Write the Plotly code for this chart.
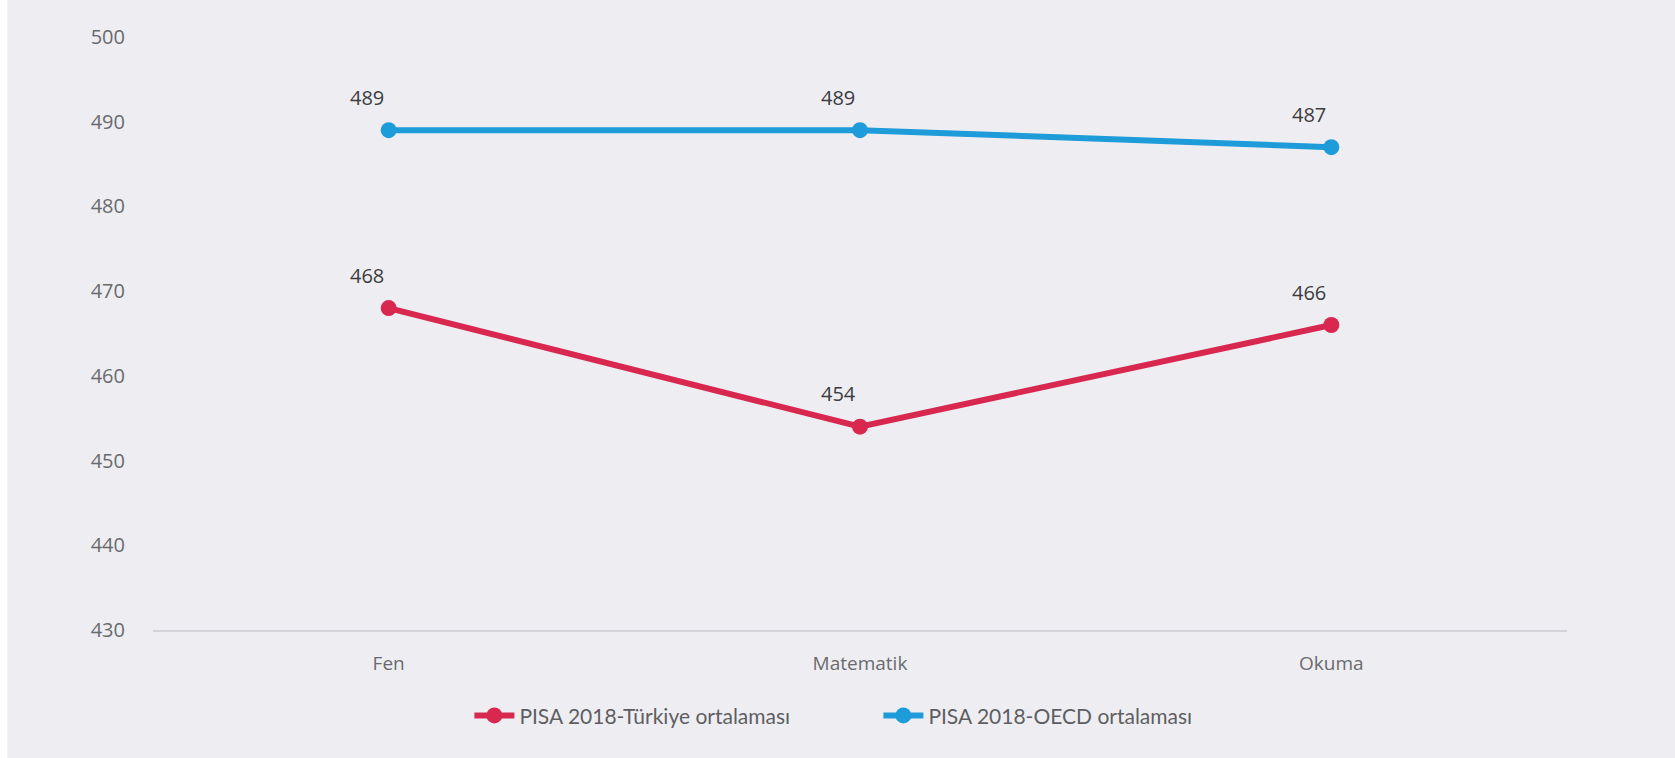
import plotly.graph_objects as go

# PISA 2018 mean scores by domain
subjects = ["Fen", "Matematik", "Okuma"]
turkiye_scores = [468, 454, 466]
oecd_scores = [489, 489, 487]
series_names = ["PISA 2018-Türkiye ortalaması", "PISA 2018-OECD ortalaması"]
y_ticks = [430, 440, 450, 460, 470, 480, 490, 500]

RED = "#D8284F"
BLUE = "#1E9BD9"
BG = "#EEEEF2"

fig = go.Figure()

for name, values, color in [
    (series_names[0], turkiye_scores, RED),
    (series_names[1], oecd_scores, BLUE),
]:
    fig.add_trace(go.Scatter(
        x=subjects,
        y=values,
        name=name,
        mode="lines+markers",
        line=dict(color=color, width=6),
        marker=dict(color=color, size=16),
        hoverinfo="x+y",
    ))
    # value labels above and slightly left of each point
    for s, v in zip(subjects, values):
        fig.add_annotation(
            x=s, y=v, text=str(v), showarrow=False,
            xanchor="center", yanchor="middle",
            xshift=-22, yshift=33,
            font=dict(family="Open Sans, sans-serif", size=20, color="#3c3c40"),
        )

# thin white strip along the left edge of the page
fig.add_shape(type="rect", xref="paper", yref="paper",
              x0=-0.115, x1=-0.103, y0=-0.3, y1=1.1,
              fillcolor="white", line_width=0, layer="below")

fig.update_layout(
    width=1675,
    height=758,
    margin=dict(l=153, r=108, t=37, b=128),
    paper_bgcolor=BG,
    plot_bgcolor=BG,
    font=dict(family="Open Sans, sans-serif", color="#6a6a6e"),
    showlegend=True,
    legend=dict(
        orientation="h",
        x=0.513, xanchor="center",
        y=-0.11, yanchor="top",
        font=dict(family="Lato, sans-serif", size=21, color="#5e5e62"),
        itemwidth=40,
        entrywidth=354,
        bgcolor="rgba(0,0,0,0)",
    ),
    hovermode="closest",
)

fig.update_xaxes(
    type="category",
    range=[-0.5, 2.5],
    showgrid=False,
    zeroline=False,
    showline=True,
    linecolor="#D3D3DA",
    linewidth=2,
    ticks="",
    tickfont=dict(family="Open Sans, sans-serif", size=19, color="#6a6a6e"),
    ticklabelstandoff=15,
)

fig.update_yaxes(
    range=[430, 500],
    tickvals=y_ticks,
    showgrid=False,
    zeroline=False,
    showline=False,
    ticks="",
    tickfont=dict(family="Open Sans, sans-serif", size=20, color="#6a6a6e"),
    ticklabelstandoff=27,
)

fig.write_html("out.html")
